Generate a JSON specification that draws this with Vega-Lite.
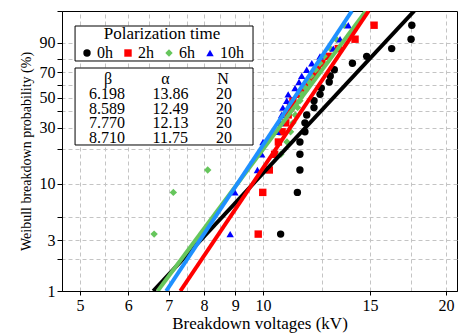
{
  "$schema": "https://vega.github.io/schema/vega-lite/v6.json",
  "width": 395,
  "height": 280,
  "autosize": {"type": "none"},
  "padding": {"left": 62, "top": 11, "right": 2, "bottom": 42},
  "datasets": {
    "breakdowns": [
      {"time": "0h", "kV": 10.69, "weibull": -3.355},
      {"time": "0h", "kV": 11.39, "weibull": -2.442},
      {"time": "0h", "kV": 11.50, "weibull": -1.952},
      {"time": "0h", "kV": 11.50, "weibull": -1.609},
      {"time": "0h", "kV": 11.50, "weibull": -1.340},
      {"time": "0h", "kV": 11.72, "weibull": -1.116},
      {"time": "0h", "kV": 11.72, "weibull": -0.921},
      {"time": "0h", "kV": 11.80, "weibull": -0.747},
      {"time": "0h", "kV": 12.13, "weibull": -0.587},
      {"time": "0h", "kV": 12.13, "weibull": -0.438},
      {"time": "0h", "kV": 12.41, "weibull": -0.297},
      {"time": "0h", "kV": 12.47, "weibull": -0.160},
      {"time": "0h", "kV": 12.85, "weibull": -0.026},
      {"time": "0h", "kV": 12.90, "weibull": 0.107},
      {"time": "0h", "kV": 13.10, "weibull": 0.243},
      {"time": "0h", "kV": 14.03, "weibull": 0.384},
      {"time": "0h", "kV": 14.81, "weibull": 0.535},
      {"time": "0h", "kV": 16.28, "weibull": 0.704},
      {"time": "0h", "kV": 17.52, "weibull": 0.910},
      {"time": "0h", "kV": 17.57, "weibull": 1.216},
      {"time": "2h", "kV": 9.82, "weibull": -3.355},
      {"time": "2h", "kV": 9.99, "weibull": -2.442},
      {"time": "2h", "kV": 10.24, "weibull": -1.952},
      {"time": "2h", "kV": 10.45, "weibull": -1.609},
      {"time": "2h", "kV": 10.60, "weibull": -1.340},
      {"time": "2h", "kV": 10.75, "weibull": -1.116},
      {"time": "2h", "kV": 10.90, "weibull": -0.921},
      {"time": "2h", "kV": 11.00, "weibull": -0.747},
      {"time": "2h", "kV": 11.10, "weibull": -0.587},
      {"time": "2h", "kV": 11.20, "weibull": -0.438},
      {"time": "2h", "kV": 11.50, "weibull": -0.297},
      {"time": "2h", "kV": 11.70, "weibull": -0.160},
      {"time": "2h", "kV": 11.90, "weibull": -0.026},
      {"time": "2h", "kV": 12.10, "weibull": 0.107},
      {"time": "2h", "kV": 12.30, "weibull": 0.243},
      {"time": "2h", "kV": 12.50, "weibull": 0.384},
      {"time": "2h", "kV": 12.80, "weibull": 0.535},
      {"time": "2h", "kV": 13.30, "weibull": 0.704},
      {"time": "2h", "kV": 14.17, "weibull": 0.910},
      {"time": "2h", "kV": 15.23, "weibull": 1.216},
      {"time": "6h", "kV": 6.62, "weibull": -3.355},
      {"time": "6h", "kV": 7.12, "weibull": -2.442},
      {"time": "6h", "kV": 8.11, "weibull": -1.952},
      {"time": "6h", "kV": 10.70, "weibull": -1.609},
      {"time": "6h", "kV": 10.95, "weibull": -1.340},
      {"time": "6h", "kV": 11.10, "weibull": -1.116},
      {"time": "6h", "kV": 11.20, "weibull": -0.921},
      {"time": "6h", "kV": 11.30, "weibull": -0.747},
      {"time": "6h", "kV": 11.40, "weibull": -0.587},
      {"time": "6h", "kV": 11.50, "weibull": -0.438},
      {"time": "6h", "kV": 11.60, "weibull": -0.297},
      {"time": "6h", "kV": 11.75, "weibull": -0.160},
      {"time": "6h", "kV": 11.90, "weibull": -0.026},
      {"time": "6h", "kV": 12.00, "weibull": 0.107},
      {"time": "6h", "kV": 12.20, "weibull": 0.243},
      {"time": "6h", "kV": 12.40, "weibull": 0.384},
      {"time": "6h", "kV": 12.60, "weibull": 0.535},
      {"time": "6h", "kV": 12.90, "weibull": 0.704},
      {"time": "6h", "kV": 13.20, "weibull": 0.910},
      {"time": "6h", "kV": 13.60, "weibull": 1.216},
      {"time": "10h", "kV": 8.83, "weibull": -3.355},
      {"time": "10h", "kV": 8.99, "weibull": -2.442},
      {"time": "10h", "kV": 9.79, "weibull": -1.952},
      {"time": "10h", "kV": 9.95, "weibull": -1.609},
      {"time": "10h", "kV": 10.00, "weibull": -1.340},
      {"time": "10h", "kV": 10.55, "weibull": -1.116},
      {"time": "10h", "kV": 10.69, "weibull": -0.921},
      {"time": "10h", "kV": 10.73, "weibull": -0.747},
      {"time": "10h", "kV": 10.78, "weibull": -0.587},
      {"time": "10h", "kV": 10.94, "weibull": -0.438},
      {"time": "10h", "kV": 11.00, "weibull": -0.297},
      {"time": "10h", "kV": 11.29, "weibull": -0.160},
      {"time": "10h", "kV": 11.46, "weibull": -0.026},
      {"time": "10h", "kV": 11.58, "weibull": 0.107},
      {"time": "10h", "kV": 11.80, "weibull": 0.243},
      {"time": "10h", "kV": 12.03, "weibull": 0.384},
      {"time": "10h", "kV": 12.41, "weibull": 0.535},
      {"time": "10h", "kV": 13.05, "weibull": 0.704},
      {"time": "10h", "kV": 13.39, "weibull": 0.910},
      {"time": "10h", "kV": 13.81, "weibull": 1.216}
    ],
    "fits": [
      {"time": "0h", "kV": 6.598, "weibull": -4.60015},
      {"time": "0h", "kV": 17.731, "weibull": 1.52718},
      {"time": "6h", "kV": 6.710, "weibull": -4.60015},
      {"time": "6h", "kV": 14.764, "weibull": 1.52718},
      {"time": "10h", "kV": 6.929, "weibull": -4.60015},
      {"time": "10h", "kV": 14.003, "weibull": 1.52718},
      {"time": "2h", "kV": 7.311, "weibull": -4.60015},
      {"time": "2h", "kV": 14.920, "weibull": 1.52718}
    ],
    "parameters": [
      {"time": "0h", "beta": "6.198", "alpha": "13.86", "n": "20"},
      {"time": "2h", "beta": "8.589", "alpha": "12.49", "n": "20"},
      {"time": "6h", "beta": "7.770", "alpha": "12.13", "n": "20"},
      {"time": "10h", "beta": "8.710", "alpha": "11.75", "n": "20"}
    ],
    "header": [
      {"time": "head", "param": "beta", "label": "β"},
      {"time": "head", "param": "alpha", "label": "α"},
      {"time": "head", "param": "n", "label": "N"}
    ]
  },
  "config": {
    "font": "Liberation Serif",
    "view": {"stroke": "black", "strokeWidth": 1},
    "axis": {
      "labelFont": "Liberation Serif",
      "titleFont": "Liberation Serif",
      "labelColor": "black",
      "titleColor": "black",
      "domainColor": "black",
      "tickColor": "black",
      "titleFontWeight": "normal",
      "gridColor": "#c4c4c4",
      "gridDash": [4, 3],
      "gridWidth": 1
    },
    "legend": {
      "orient": "none",
      "legendX": 17,
      "legendY": 15,
      "direction": "horizontal",
      "columns": 4,
      "titleAnchor": "middle",
      "padding": 0,
      "titleFont": "Liberation Serif",
      "titleFontSize": 17,
      "titleFontWeight": "normal",
      "titleColor": "black",
      "titlePadding": 2,
      "labelFont": "Liberation Serif",
      "labelFontSize": 16,
      "labelFontWeight": "normal",
      "labelColor": "black",
      "labelOffset": 2,
      "columnPadding": 7,
      "symbolSize": 55,
      "symbolStrokeWidth": 0
    }
  },
  "layer": [
    {
      "layer": [
        {
          "data": {"name": "breakdowns"},
          "mark": {"type": "point", "filled": true, "opacity": 1, "size": 55},
          "encoding": {
            "x": {
              "field": "kV", "type": "quantitative",
              "scale": {"type": "log", "domain": [4.67, 20.85], "nice": false},
              "axis": {
                "orient": "bottom",
                "values": [5, 6, 7, 8, 9, 10, 15, 20],
                "format": "d",
                "grid": false,
                "labelFontSize": 16,
                "labelFlush": false,
                "labelPadding": 2,
                "tickSize": 4,
                "title": "Breakdown voltages (kV)",
                "titleFontSize": 17,
                "titlePadding": 2
              }
            },
            "y": {
              "field": "weibull", "type": "quantitative",
              "scale": {"domain": [-4.60015, 1.52718], "nice": false, "zero": false},
              "axis": {
                "orient": "left",
                "values": [-4.60015, -3.90194, -3.49137, -2.97020, -2.25037, -1.49994, -1.03093, -0.67173, -0.36651, -0.08742, 0.18563, 0.47588, 0.83403, 1.52718],
                "labelExpr": "format(100 * (1 - exp(-exp(datum.value))), 'd')",
                "grid": false,
                "labelFontSize": 16,
                "labelPadding": 2,
                "tickSize": 5,
                "title": "Weibull breakdown probability (%)",
                "titleFontSize": 14,
                "titlePadding": 6
              }
            },
            "color": {
              "field": "time", "type": "nominal", "title": "Polarization time",
              "scale": {"domain": ["0h", "2h", "6h", "10h"], "range": ["#000000", "#ff0000", "#66c65c", "#0000ff"]}
            },
            "shape": {
              "field": "time", "type": "nominal", "title": "Polarization time",
              "scale": {"domain": ["0h", "2h", "6h", "10h"], "range": ["circle", "square", "diamond", "triangle-up"]}
            }
          }
        },
        {
          "data": {"name": "fits"},
          "mark": {"type": "line", "strokeWidth": 4, "clip": true},
          "encoding": {
            "x": {
              "field": "kV", "type": "quantitative",
              "axis": {
                "orient": "top",
                "values": [5, 5.5, 6, 6.5, 7, 7.5, 8, 8.5, 9, 9.5, 10, 12.5, 15, 17.5, 20],
                "grid": true, "labels": false, "ticks": false, "domain": false, "title": null
              }
            },
            "y": {
              "field": "weibull", "type": "quantitative",
              "axis": {
                "orient": "right",
                "values": [-3.90194, -3.49137, -2.97020, -2.25037, -1.49994, -1.03093, -0.67173, -0.36651, -0.08742, 0.18563, 0.47588, 0.83403],
                "grid": true, "labels": false, "ticks": false, "domain": false, "title": null
              }
            },
            "stroke": {
              "field": "time", "type": "nominal", "legend": null,
              "scale": {"domain": ["0h", "6h", "10h", "2h"], "range": ["#000000", "#66c65c", "#1e90ff", "#ff0000"]}
            }
          }
        },
        {
          "data": {"values": [{}]},
          "mark": {"type": "rect", "fill": "white", "stroke": "black", "strokeWidth": 1},
          "encoding": {
            "x": {"datum": 4.9066, "type": "quantitative", "axis": null},
            "x2": {"datum": 9.6284},
            "y": {"datum": 1.19893, "type": "quantitative", "axis": null},
            "y2": {"datum": 0.43302}
          }
        },
        {
          "data": {"values": [{}]},
          "mark": {"type": "rect", "fill": "white", "stroke": "black", "strokeWidth": 1},
          "encoding": {
            "x": {"datum": 4.9066, "type": "quantitative", "axis": null},
            "x2": {"datum": 9.6284},
            "y": {"datum": 0.27983, "type": "quantitative", "axis": null},
            "y2": {"datum": -1.40518}
          }
        }
      ],
      "resolve": {
        "axis": {"x": "independent", "y": "independent"}
      }
    },
    {
      "data": {"name": "header"},
      "mark": {"type": "text", "font": "Liberation Serif", "fontSize": 16, "align": "center", "baseline": "middle", "color": "black"},
      "encoding": {
        "x": {"field": "param", "type": "nominal", "axis": null,
              "scale": {"type": "point", "padding": 0, "domain": ["beta", "alpha", "n"], "range": [46, 161]}},
        "y": {"field": "time", "type": "nominal", "axis": null,
              "scale": {"type": "point", "padding": 0, "domain": ["head", "0h", "2h", "6h", "10h"], "range": [68.3, 126.7]}},
        "text": {"field": "label"}
      }
    },
    {
      "data": {"name": "parameters"},
      "transform": [{"fold": ["beta", "alpha", "n"], "as": ["param", "value"]}],
      "mark": {"type": "text", "font": "Liberation Serif", "fontSize": 16, "align": "left", "baseline": "middle", "color": "black"},
      "encoding": {
        "x": {"field": "param", "type": "nominal", "axis": null,
              "scale": {"type": "point", "padding": 0, "domain": ["beta", "alpha", "n"], "range": [27, 154]}},
        "y": {"field": "time", "type": "nominal", "axis": null,
              "scale": {"type": "point", "padding": 0, "domain": ["head", "0h", "2h", "6h", "10h"], "range": [68.3, 126.7]}},
        "text": {"field": "value"}
      }
    }
  ],
  "resolve": {"scale": {"x": "independent", "y": "independent"}}
}
